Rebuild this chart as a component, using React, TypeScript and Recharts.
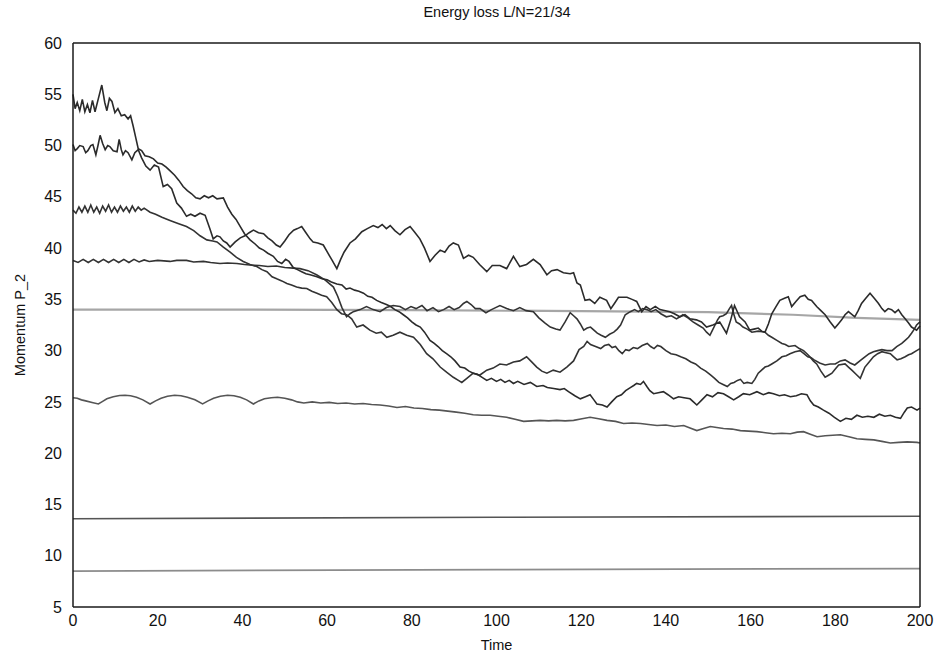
import React from 'react';
import { LineChart, Line, XAxis, YAxis, Label } from 'recharts';

type Pt = [number, number];

const FONT = "'Liberation Sans', Arial, Helvetica, sans-serif";

const timeTicks = [0, 20, 40, 60, 80, 100, 120, 140, 160, 180, 200];
const momentumTicks = [5, 10, 15, 20, 25, 30, 35, 40, 45, 50, 55, 60];

// run that starts near P_2 = 55
const run55: Pt[] = [
  [0, 55.0], [0.5, 53.6], [1, 54.2], [1.6, 53.4], [2.2, 54.5], [2.8, 53.3], [3.4, 54.0], [4, 53.2],
  [4.6, 54.4], [5.2, 53.3], [6, 54.6], [6.8, 55.9], [7.5, 54.2], [8, 53.4], [8.6, 54.6], [9.2, 54.3],
  [9.9, 53.2], [10.6, 53.6], [11.4, 52.9], [12.2, 53.0], [13, 52.6], [13.6, 52.9], [14.2, 51.9], [14.8, 50.8],
  [15.4, 49.7], [16.2, 49.5], [17, 49.0], [18, 48.9], [19, 48.7], [20, 48.3], [21, 48.2], [22, 47.9],
  [23, 47.5], [24, 47.1], [25, 46.6], [26, 46.0], [27, 45.6], [28, 45.3], [29, 44.9], [30, 44.8],
  [31, 45.1], [32, 44.9], [33, 45.1], [34, 44.8], [35.5, 44.9], [36.5, 44.0], [37.5, 43.3], [38.5, 42.8],
  [39.5, 42.1], [40.5, 41.4], [41.8, 40.8], [43, 40.4], [44, 40.0], [45, 39.8], [46, 39.5], [47.3, 39.2],
  [48.3, 38.7], [49.3, 38.5], [50.2, 38.9], [51, 38.7], [52, 38.1], [53, 37.9], [54, 37.7], [55, 37.5],
  [56, 37.4], [57.6, 37.2], [58.8, 37.0], [60, 36.9], [61, 36.7], [62.3, 36.5], [63.5, 36.4], [64.5, 36.0],
  [65.4, 36.1], [66.5, 35.9], [67.5, 35.8], [68.6, 35.6], [69.6, 35.3], [70.6, 35.2], [71.7, 34.9], [72.8, 34.7],
  [74, 34.5], [75, 34.3], [76, 34.0], [77, 33.8], [78, 33.5], [79, 33.2], [80, 32.8], [81, 32.5],
  [82, 32.3], [83, 31.8], [84.3, 31.0], [85.3, 30.7], [86.2, 30.4], [87.2, 30.0], [88.2, 29.7], [89.2, 29.4],
  [90.2, 29.0], [91.4, 28.4], [92.5, 28.3], [93.5, 28.0], [94.5, 27.8], [95.5, 27.7], [96.6, 27.4], [97.7, 27.1],
  [98.8, 27.3], [100, 27.0], [101, 27.2], [102, 26.9], [103, 27.1], [104, 26.8], [105, 27.0], [106.5, 26.7],
  [108, 26.9], [109.5, 26.5], [111, 26.6], [112, 26.4], [113.5, 26.3], [115, 26.2], [116, 26.3], [117, 26.0],
  [118.5, 25.6], [119.8, 25.3], [121, 25.5], [122.1, 25.7], [123, 25.2], [123.7, 24.8], [125, 24.7], [126.1, 24.5],
  [127.2, 25.0], [128.4, 25.5], [129.5, 25.7], [130.5, 26.1], [131.6, 26.4], [132.4, 26.6], [133.1, 26.8], [134, 26.7],
  [134.7, 27.0], [135.5, 26.5], [136.2, 26.1], [137.1, 25.8], [138.2, 25.9], [139.4, 26.0], [140.5, 25.7], [141.8, 25.3],
  [143, 25.5], [144.3, 25.4], [145.7, 25.3], [146.5, 25.0], [147.3, 24.7], [148.5, 25.2], [149.7, 25.7], [151, 25.5],
  [152.3, 25.9], [153.6, 25.8], [154.8, 25.5], [156, 25.2], [157.2, 25.5], [158.3, 25.8], [159.8, 25.7], [161.5, 26.0],
  [163, 25.7], [164.3, 25.9], [165.4, 25.8], [166.8, 25.6], [168, 25.7], [169.4, 25.5], [170.8, 25.6], [172, 25.8],
  [173.3, 25.7], [174.1, 25.1], [174.9, 24.7], [176, 24.5], [177.2, 24.2], [178.5, 23.9], [179.8, 23.5], [181.2, 23.1],
  [182.5, 23.4], [183.8, 23.3], [185.1, 23.7], [186.4, 23.5], [187.7, 23.6], [189.1, 23.5], [190.4, 23.8], [191.7, 23.6],
  [193, 23.7], [194.2, 23.5], [195.4, 23.4], [196.3, 24.0], [197, 24.4], [198, 24.5], [199.3, 24.2], [200, 24.4],
];

// run that starts near 50
const run50: Pt[] = [
  [0, 50.1], [0.5, 49.5], [1, 49.7], [1.6, 50.0], [2.4, 49.9], [3, 49.3], [3.5, 49.5], [4.2, 50.0],
  [4.7, 50.1], [5.4, 49.1], [5.9, 50.0], [6.4, 51.0], [7, 50.2], [7.6, 49.6], [8.2, 50.0], [8.7, 49.9],
  [9.5, 49.5], [10.4, 49.4], [10.9, 50.6], [11.4, 49.6], [11.8, 49.1], [12.4, 49.5], [13, 49.3], [13.9, 48.6],
  [14.6, 49.3], [15.4, 49.6], [16.2, 48.8], [17.2, 48.0], [18.2, 47.6], [19.2, 48.1], [20.2, 47.9], [21.3, 46.0],
  [22.3, 46.2], [23.3, 45.8], [24.5, 44.4], [25.6, 43.9], [26.8, 43.1], [27.8, 43.3], [28.8, 43.1], [30, 43.4],
  [31.2, 43.2], [32.4, 41.8], [33.1, 40.9], [34, 41.2], [34.7, 41.1], [35.5, 40.7], [36.3, 40.5], [37.1, 40.1],
  [38.3, 40.6], [39.5, 41.0], [40.6, 41.2], [41.6, 41.5], [42.6, 41.75], [43.8, 41.5], [45, 41.4], [46, 41.0],
  [47, 40.7], [48, 40.3], [48.9, 40.1], [50, 40.7], [51, 41.3], [52.1, 41.75], [53, 41.9], [54, 42.1],
  [55, 41.5], [56, 40.9], [56.7, 40.6], [57.8, 40.5], [59.1, 40.3], [60.2, 39.5], [61.2, 38.8], [62.3, 38.0],
  [63.2, 38.9], [64, 39.6], [65.4, 40.5], [66.7, 40.9], [68.2, 41.6], [69.5, 41.9], [70.9, 42.2], [72, 42.0],
  [73, 42.3], [74, 41.9], [74.9, 42.2], [76, 41.7], [77.2, 41.3], [78.4, 41.8], [79.6, 42.1], [80.6, 41.6],
  [81.9, 40.9], [83, 40.0], [84.3, 38.7], [85.5, 39.3], [86.7, 39.8], [87.8, 39.6], [88.8, 40.2], [89.8, 40.5],
  [91, 40.3], [92.2, 39.0], [93.4, 39.3], [94.5, 39.1], [96, 38.4], [97.7, 37.7], [99, 38.3], [100.8, 38.3],
  [102.4, 38.0], [104, 39.2], [105.5, 38.2], [107.1, 38.4], [108.7, 38.9], [110.3, 38.4], [111.9, 37.4], [113, 37.8],
  [114.3, 37.9], [115.8, 37.6], [117.4, 37.5], [118.2, 37.6], [119, 36.6], [119.8, 36.4], [120.9, 34.9], [122, 35.0],
  [123.2, 34.6], [124.4, 35.2], [126, 34.9], [127, 34.1], [128, 34.7], [128.8, 35.2], [130.8, 35.2], [132, 35.0],
  [133.1, 34.8], [134.3, 33.8], [135.3, 34.3], [136.3, 34.0], [137.5, 34.3], [138.6, 34.0], [140.9, 33.8], [142, 33.6],
  [143.3, 33.3], [144.5, 33.5], [145.7, 33.1], [147.2, 33.0], [148.4, 32.8], [149.6, 32.3], [151.1, 32.5], [152.7, 32.8],
  [154.3, 31.7], [155.3, 33.0], [156.2, 34.4], [157.4, 33.3], [158.7, 32.8], [159.8, 32.0], [160.8, 32.1], [161.8, 32.2],
  [162.6, 31.9], [163.4, 31.8], [164.2, 32.6], [165, 33.6], [166, 34.3], [166.9, 34.9], [168, 35.1], [168.9, 35.25],
  [169.7, 34.3], [170.7, 34.8], [171.7, 35.25], [172.8, 35.4], [173.6, 35.0], [174.4, 34.9], [175.6, 34.3], [176.6, 33.9],
  [177.6, 33.5], [178.8, 32.8], [179.9, 32.2], [180.7, 32.6], [181.5, 33.0], [182.3, 33.5], [183.1, 33.8], [184.6, 33.3],
  [185.4, 33.9], [186.2, 34.6], [187.2, 35.1], [188.2, 35.6], [189.2, 35.1], [190.2, 34.6], [191, 34.1], [191.7, 33.8],
  [192.5, 34.1], [193.3, 34.0], [194.1, 33.7], [194.9, 34.0], [195.7, 33.5], [196.5, 33.1], [197.3, 32.7], [198, 32.3],
  [199.2, 32.0], [200, 32.4],
];

// run that starts near 43.6
const run44: Pt[] = [
  [0, 43.7], [0.7, 43.4], [1.4, 44.0], [2.1, 43.5], [2.8, 44.1], [3.5, 43.5], [4.2, 44.2], [4.9, 43.5],
  [5.6, 44.0], [6.3, 43.4], [7, 44.1], [7.7, 43.6], [8.4, 44.2], [9.1, 43.5], [9.8, 44.0], [10.5, 43.5],
  [11.2, 44.1], [11.9, 43.6], [12.6, 44.0], [13.3, 43.5], [14, 44.1], [14.7, 43.6], [15.4, 44.0], [16.1, 43.7],
  [16.8, 43.9], [18.2, 43.5], [19.5, 43.3], [21, 43.0], [22.9, 42.7], [24.8, 42.4], [26.8, 42.1], [28.5, 41.7],
  [30, 41.2], [31.6, 40.8], [33, 40.7], [34, 40.6], [35.5, 40.1], [37.1, 39.6], [38.6, 39.1], [40.2, 38.7],
  [41.8, 38.4], [43.4, 38.2], [44.6, 37.9], [45.8, 37.7], [47, 37.2], [48.1, 37.0], [49.3, 36.8], [50.5, 36.55],
  [51.6, 36.4], [52.8, 36.2], [54, 36.1], [55.2, 36.06], [56.4, 35.8], [57.6, 35.6], [58.7, 35.4], [59.9, 35.25],
  [61.1, 34.7], [62.3, 34.0], [63.4, 33.6], [64.6, 33.5], [65.8, 33.1], [67, 32.3], [68.5, 32.5], [70.1, 32.0],
  [71.6, 31.7], [72.8, 31.8], [74.1, 31.3], [75.6, 31.5], [77.2, 31.8], [78.8, 31.5], [80.4, 31.3], [82, 30.6],
  [83.5, 29.7], [85, 29.2], [86.7, 28.4], [88.2, 27.9], [89.8, 27.4], [91, 27.1], [91.8, 26.9], [93, 27.3],
  [94.5, 27.8], [96, 27.6], [97.7, 28.1], [99.2, 28.3], [100.8, 28.7], [102.4, 28.6], [104, 28.9], [105.5, 29.0],
  [107.1, 29.4], [108.3, 28.9], [109.5, 28.4], [110.7, 28.0], [111.9, 27.8], [113.4, 28.1], [115, 27.9], [116.6, 28.4],
  [118.2, 29.0], [119.5, 30.1], [120.6, 30.4], [121.4, 30.9], [122.2, 30.6], [123.4, 30.4], [124.6, 30.2], [125.5, 30.5],
  [126.5, 30.6], [127.3, 30.3], [128.1, 30.4], [128.9, 30.0], [129.7, 29.7], [130.5, 30.1], [131.3, 30.0], [132.3, 30.3],
  [133.3, 30.2], [134.4, 30.5], [135.6, 30.7], [136.4, 30.4], [137.2, 30.2], [138, 30.5], [138.8, 30.4], [140, 30.0],
  [141.2, 29.7], [142.4, 29.6], [143.5, 29.4], [144.7, 29.2], [145.9, 28.9], [147, 28.7], [148.2, 28.3], [149.4, 28.0],
  [150.6, 27.6], [151.5, 27.3], [152.5, 26.9], [153.5, 26.7], [154.5, 26.5], [155.3, 26.8], [156.1, 26.9], [156.9, 27.1],
  [157.6, 27.2], [158.4, 26.8], [159.2, 26.9], [160.3, 26.8], [161, 27.2], [161.8, 27.8], [162.6, 28.1], [163.4, 28.4],
  [164.2, 28.5], [165, 28.7], [166.2, 29.0], [167.4, 29.4], [168.4, 29.5], [169.3, 29.7], [170.5, 29.9], [171.7, 30.0],
  [172.6, 29.7], [173.5, 29.4], [174.3, 29.3], [175, 29.1], [176.3, 28.8], [177.6, 28.6], [178.8, 28.7], [180, 28.7],
  [181.2, 29.0], [182.3, 29.1], [183.5, 28.8], [184.6, 28.6], [185.8, 29.0], [187, 29.4], [188, 29.7], [189, 29.9],
  [190, 30.0], [191, 30.1], [192.2, 30.0], [193.4, 30.0], [194.5, 30.4], [195.7, 30.7], [196.5, 31.0], [197.3, 31.3],
  [198, 31.7], [198.5, 32.0], [199.2, 32.5], [200, 32.8],
];

// run that starts near 38.8
const run39: Pt[] = [
  [0, 38.8], [1.2, 38.6], [2.4, 38.9], [3.6, 38.6], [4.8, 38.9], [6, 38.6], [7.2, 38.9], [8.4, 38.6],
  [9.6, 38.9], [10.8, 38.6], [12, 38.9], [13.2, 38.6], [14.4, 38.9], [15.6, 38.65], [16.8, 38.85], [18, 38.7],
  [20, 38.8], [22.9, 38.7], [24.5, 38.8], [26.8, 38.8], [28.5, 38.65], [30.8, 38.7], [32.5, 38.6], [34.7, 38.5],
  [36.5, 38.55], [38.7, 38.5], [40.5, 38.4], [41.8, 38.35], [44, 38.3], [46, 38.2], [48, 38.25], [50, 38.1],
  [52, 38.05], [53.6, 38.0], [55.5, 37.8], [57.5, 37.4], [59.5, 36.9], [61.5, 36.2], [62.5, 35.3], [63.5, 34.2],
  [64.6, 33.3], [65.4, 33.6], [66.2, 33.8], [67.8, 34.0], [69.3, 34.3], [70.9, 34.0], [72.5, 33.8], [74, 34.2],
  [75.6, 34.4], [77.2, 34.3], [78.5, 34.0], [79.8, 34.3], [81, 34.1], [82.4, 34.4], [83.6, 33.9], [85, 34.2],
  [86.3, 33.8], [87.5, 34.0], [88.8, 34.3], [90, 34.0], [91.2, 34.2], [92.2, 34.6], [93, 34.8], [94, 34.5],
  [95, 34.1], [96.1, 34.1], [97.5, 33.7], [98.8, 34.0], [100.8, 34.4], [102.4, 34.1], [104, 33.9], [105.5, 34.2],
  [107, 33.9], [108.7, 33.8], [110, 33.2], [111.4, 32.7], [112.7, 32.3], [114, 32.1], [115, 32.0], [116.2, 32.8],
  [117.4, 33.7], [118.2, 33.4], [119, 33.1], [119.8, 32.6], [120.6, 32.0], [121.4, 32.2], [122.2, 32.3], [123, 32.0],
  [123.8, 31.7], [124.7, 31.5], [125.7, 31.3], [126.7, 31.6], [127.7, 31.8], [128.5, 32.1], [129.3, 32.5], [130.4, 33.5],
  [131.6, 33.8], [132.6, 34.0], [133.5, 33.8], [134.5, 34.1], [135.5, 34.0], [136.5, 33.8], [137.6, 34.0], [138.8, 33.6],
  [140.1, 33.3], [141.3, 33.4], [142.5, 33.1], [143.3, 33.3], [144, 33.5], [145.2, 33.2], [146.4, 32.8], [147.6, 32.5],
  [148.8, 32.2], [149.6, 31.8], [150.4, 31.5], [151, 32.0], [151.6, 32.5], [152.2, 33.0], [152.7, 33.3], [153.5, 33.4],
  [154.3, 33.6], [155, 34.1], [155.5, 34.4], [156, 33.6], [156.6, 32.8], [157.4, 32.6], [158.2, 32.3], [159.2, 32.1],
  [160.3, 31.8], [161.8, 31.9], [163.4, 31.8], [164.2, 31.5], [165, 31.3], [166.2, 31.0], [167.4, 30.7], [168.2, 30.6],
  [169, 30.4], [170.5, 30.5], [171.5, 30.2], [172.5, 30.0], [173.3, 29.7], [174, 29.4], [174.8, 29.0], [175.6, 28.7],
  [176.6, 28.0], [177.6, 27.4], [178.4, 27.6], [179.2, 27.8], [180, 28.2], [180.8, 28.6], [182.3, 28.7], [183.1, 28.4],
  [183.9, 28.1], [184.9, 27.7], [185.9, 27.3], [186.5, 27.9], [187, 28.4], [188, 28.9], [189, 29.4], [190, 29.7],
  [191, 29.9], [192, 29.8], [193, 29.7], [193.8, 29.4], [194.6, 29.1], [195.5, 29.2], [196.5, 29.4], [197.3, 29.6],
  [198, 29.7], [199.2, 30.0], [200, 30.2],
];

// the ~25 orbit with slow wobble at the start
const run25: Pt[] = [
  [0, 25.4], [1, 25.35], [2, 25.2], [3, 25.1], [4.5, 24.95], [6, 24.8], [7, 25.05], [8, 25.3],
  [9.5, 25.5], [11, 25.62], [12.3, 25.65], [13.6, 25.6], [15, 25.45], [16.5, 25.2], [18.2, 24.8], [19.5, 25.1],
  [20.8, 25.35], [22.3, 25.55], [24, 25.65], [25.5, 25.6], [27, 25.45], [28.8, 25.2], [30.6, 24.8], [31.9, 25.1],
  [33.2, 25.35], [34.8, 25.55], [36.5, 25.65], [38, 25.6], [39.5, 25.45], [41, 25.2], [42.6, 24.8], [43.9, 25.1],
  [45.2, 25.3], [46.8, 25.4], [48.3, 25.45], [50, 25.35], [51.6, 25.2], [53, 25.0], [54.5, 24.9], [56.5, 25.0],
  [58.5, 24.9], [60.5, 24.95], [62.5, 24.85], [64.5, 24.9], [66.5, 24.8], [68.5, 24.85], [70.5, 24.75], [72.5, 24.7],
  [74.5, 24.6], [76.5, 24.45], [78.5, 24.55], [80.5, 24.4], [82.5, 24.35], [84.5, 24.25], [86.5, 24.2], [88.5, 24.1],
  [90.5, 24.0], [92.5, 23.9], [94.5, 23.75], [96.5, 23.7], [98.5, 23.7], [100.4, 23.6], [102.4, 23.5], [104.4, 23.3],
  [106.4, 23.1], [108.4, 23.15], [110.3, 23.2], [112.3, 23.15], [114.2, 23.2], [116.2, 23.15], [118.2, 23.2], [120.2, 23.35],
  [122.1, 23.5], [124.1, 23.35], [126.1, 23.2], [128.1, 23.1], [130, 22.9], [132, 22.95], [134, 22.9], [135.9, 22.8],
  [137.9, 22.7], [140, 22.75], [142, 22.6], [144.2, 22.7], [145.7, 22.45], [147.3, 22.2], [148.9, 22.4], [150.5, 22.6],
  [152, 22.5], [153.6, 22.4], [155.6, 22.35], [157.6, 22.2], [159.5, 22.15], [161.5, 22.1], [163.5, 22.0], [165.4, 21.9],
  [167.4, 21.95], [169.4, 21.9], [171, 22.05], [172.5, 22.1], [174.1, 21.85], [175.7, 21.6], [177.6, 21.7], [179.4, 21.75],
  [181.2, 21.8], [183.2, 21.6], [185.1, 21.4], [187.1, 21.35], [189.1, 21.3], [191, 21.15], [193, 21.0], [195, 21.05],
  [197, 21.1], [199.3, 21.05], [200, 21.0],
];

// nearly conserved orbits
const flat34: Pt[] = [[0, 34.0], [40, 34.0], [80, 33.95], [120, 33.85], [150, 33.75], [170, 33.5], [185, 33.2], [200, 33.0]];
const flat14: Pt[] = [[0, 13.6], [100, 13.75], [200, 13.85]];
const flat8: Pt[] = [[0, 8.5], [100, 8.65], [200, 8.75]];

const toRows = (pts: Pt[]) => pts.map(([t, v]) => ({ t, v }));

const series = [
  { id: 'flat8', pts: flat8, color: '#8c8c8c', width: 1.7 },
  { id: 'flat14', pts: flat14, color: '#555', width: 1.6 },
  { id: 'flat34', pts: flat34, color: '#a6a6a6', width: 2.2 },
  { id: 'run25', pts: run25, color: '#555', width: 1.6 },
  { id: 'run39', pts: run39, color: '#333', width: 1.6 },
  { id: 'run44', pts: run44, color: '#333', width: 1.6 },
  { id: 'run50', pts: run50, color: '#2b2b2b', width: 1.6 },
  { id: 'run55', pts: run55, color: '#2b2b2b', width: 1.6 },
];

const frame = { stroke: '#1a1a1a', strokeWidth: 1.5 };
const tickStroke = { stroke: '#1a1a1a', strokeWidth: 1.2 };
const tickFont = { fill: '#111', fontSize: 16, fontFamily: FONT };

// gnuplot-style frame: inward ticks on all four sides
const mirrorX = { type: 'number' as const, dataKey: 't', domain: [0, 200], ticks: timeTicks, allowDataOverflow: true, mirror: true, height: 1, tick: false, tickSize: 8, tickLine: tickStroke };
const mirrorY = { type: 'number' as const, domain: [5, 60], ticks: momentumTicks, allowDataOverflow: true, mirror: true, width: 1, tick: false, tickSize: 7, tickLine: tickStroke };

export default function App() {
  return (
    <div style={{ position: 'absolute', left: 0, top: 0, width: 942, height: 663, background: '#fff', fontFamily: FONT, color: '#111' }}>
      <LineChart width={942} height={663} margin={{ top: 43, right: 22, bottom: 0, left: 0 }}>
        <XAxis
          type="number" dataKey="t" domain={[0, 200]} ticks={timeTicks} height={56}
          tickSize={0} tickMargin={8} tickLine={false} axisLine={frame} tick={tickFont}
        >
          <Label value="Time" position="insideBottom" offset={13} fill="#111" fontSize={14.5} fontFamily={FONT} />
        </XAxis>
        <YAxis
          type="number" domain={[5, 60]} ticks={momentumTicks} width={73}
          tickSize={0} tickMargin={11} tickLine={false} axisLine={frame} tick={tickFont}
        />
        <XAxis xAxisId="bottomTicks" orientation="bottom" {...mirrorX} axisLine={false} />
        <XAxis xAxisId="top" orientation="top" {...mirrorX} axisLine={frame} />
        <YAxis yAxisId="leftTicks" orientation="left" {...mirrorY} axisLine={false} />
        <YAxis yAxisId="right" orientation="right" {...mirrorY} axisLine={frame} />
        {/* invisible carriers so the mirrored axes get a scale */}
        <Line xAxisId="top" yAxisId="right" data={toRows(flat8)} dataKey="v" stroke="none"
          dot={false} activeDot={false} isAnimationActive={false} legendType="none" />
        <Line xAxisId="bottomTicks" yAxisId="leftTicks" data={toRows(flat8)} dataKey="v" stroke="none"
          dot={false} activeDot={false} isAnimationActive={false} legendType="none" />
        {series.map(s => (
          <Line
            key={s.id}
            data={toRows(s.pts)}
            dataKey="v"
            type="linear"
            stroke={s.color}
            strokeWidth={s.width}
            dot={false}
            activeDot={false}
            isAnimationActive={false}
          />
        ))}
      </LineChart>
      <div style={{ position: 'absolute', left: 497, top: 12, transform: 'translate(-50%, -50%)', fontSize: 14.5, whiteSpace: 'nowrap' }}>
        Energy loss L/N=21/34
      </div>
      <div style={{ position: 'absolute', left: 20, top: 325, transform: 'translate(-50%, -50%) rotate(-90deg)', fontSize: 14.5, whiteSpace: 'nowrap' }}>
        Momentum P_2
      </div>
    </div>
  );
}
